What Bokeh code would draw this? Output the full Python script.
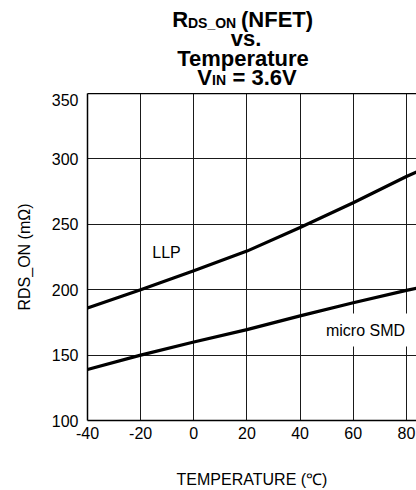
from bokeh.plotting import figure
from bokeh.models import Label, FixedTicker, LinearAxis, Range1d
from bokeh.layouts import column
from bokeh.core.properties import value
from bokeh.embed import file_html
from bokeh.resources import INLINE

# ---- data ----
temps = [-40, -20, 0, 20, 40, 60, 80, 85]
llp = [186, 200, 214.5, 229.5, 247.5, 266.5, 286.5, 291]
micro_smd = [139, 150, 160, 169.5, 180, 190, 199.5, 201.5]
x_ticks = [-40, -20, 0, 20, 40, 60, 80]
y_ticks = [100, 150, 200, 250, 300, 350]

FONT = "Liberation Sans"

# ---- layout geometry (page pixels) ----
W, H = 416, 490
TITLE_H = 93
FL, FR, FT, FB = 87.0, 416.0, 93.0, 422.0
X0, X1 = -40.0, 83.8
Y0, Y1 = 100.0, 350.0


def xd(px):
    return X0 + (px - FL) * (X1 - X0) / (FR - FL)


def yd(py):
    return Y0 + (FB - py) * (Y1 - Y0) / (FB - FT)


# ---- title figure (its frame is aligned with the chart frame: x 87..416) ----
t = figure(width=W, height=TITLE_H, output_backend="svg", toolbar_location=None,
           x_range=Range1d(FL, FR), y_range=Range1d(TITLE_H, 0),
           x_axis_location=None, y_axis_location=None,
           min_border_left=0, min_border_right=0, min_border_top=0,
           min_border_bottom=0, background_fill_color="white",
           border_fill_color="white")
t.outline_line_color = None
t.grid.visible = False


def ttext(px, py, txt, size, align="left"):
    t.text(x=[px], y=[py], text=[txt], text_font=value(FONT),
           text_font_size=value(size), text_font_style="bold",
           text_align=align, text_baseline="alphabetic", text_color="black")


SHIFT = -7.5
B1, B2, B3, B4 = 26.7 + SHIFT, 45.9 + SHIFT, 65.1 + SHIFT, 84.3 + SHIFT
ttext(171.7, B1, "R", "22px")
ttext(187.5, B1 + 3.5, "DS_ON", "14px")
ttext(240.5, B1, "(NFET)", "22px")
ttext(245.5, B2, "vs.", "22px", "center")
ttext(242.5, B3, "Temperature", "22px", "center")
ttext(196.7, B4, "V", "22px")
ttext(211.5, B4 + 3.0, "IN", "14px")
ttext(232.0, B4, "= 3.6V", "22px")

# ---- main chart ----
PH = H - TITLE_H
p = figure(width=W, height=PH, output_backend="svg", toolbar_location=None,
           x_range=Range1d(X0, X1), y_range=Range1d(Y0, Y1),
           min_border_left=int(FL), min_border_right=0,
           min_border_top=0, min_border_bottom=int(H - FB),
           background_fill_color="white", border_fill_color="white")
p.outline_line_color = None

p.xaxis.ticker = FixedTicker(ticks=x_ticks)
p.yaxis.ticker = FixedTicker(ticks=y_ticks)
p.xaxis.major_label_overrides = {v: str(v) for v in x_ticks}
for ax in (p.xaxis, p.yaxis):
    ax.major_tick_out = 0
    ax.major_tick_in = 0
    ax.minor_tick_out = 0
    ax.minor_tick_in = 0
    ax.axis_line_color = "black"
    ax.axis_line_width = 1.5
    ax.major_label_text_font = FONT
    ax.major_label_text_font_size = "16px"
    ax.major_label_text_color = "black"
    ax.axis_label_text_font = FONT
    ax.axis_label_text_font_size = "16px"
    ax.axis_label_text_font_style = "normal"
    ax.axis_label_text_color = "black"

p.xaxis.axis_label = "TEMPERATURE (\u2103)"
p.yaxis.axis_label = "RDS_ON (m\u03a9)"
p.xaxis.major_label_standoff = 6
p.xaxis.axis_label_standoff = 29
p.yaxis.major_label_standoff = 9
p.yaxis.axis_label_standoff = 16

top_axis = LinearAxis(ticker=FixedTicker(ticks=[]), axis_line_color="black",
                      axis_line_width=1.5, major_tick_out=0, major_tick_in=0,
                      minor_tick_out=0, minor_tick_in=0, major_label_standoff=0)
p.add_layout(top_axis, "above")

p.xgrid.grid_line_color = "#1a1a1a"
p.ygrid.grid_line_color = "#1a1a1a"
p.xgrid.grid_line_width = 1
p.ygrid.grid_line_width = 1

p.line(temps, llp, line_color="black", line_width=3.2, line_join="round")
p.line(temps, micro_smd, line_color="black", line_width=3.2, line_join="round")

p.add_layout(Label(x=xd(166), y=yd(252.5), text="LLP", text_font=FONT,
                   text_font_size="16px", text_align="center",
                   text_baseline="middle", text_color="black"))
p.add_layout(Label(x=xd(365), y=yd(331), text="micro SMD", text_font=FONT,
                   text_font_size="16px", text_align="center",
                   text_baseline="middle", text_color="black",
                   background_fill_color="white", padding=8))

layout = column(t, p, spacing=0)
open("out.html", "w").write(file_html(layout, INLINE))
